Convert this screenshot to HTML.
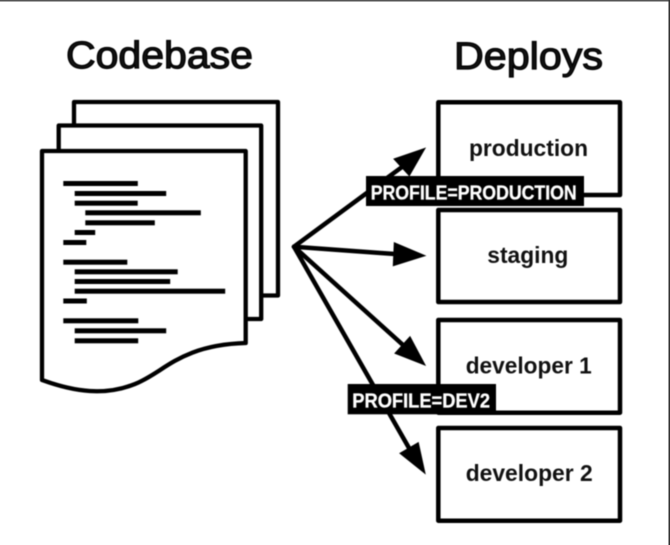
<!DOCTYPE html>
<html><head><meta charset="utf-8"><style>
html,body{margin:0;padding:0;background:#fff;width:670px;height:545px;overflow:hidden}
svg{display:block;position:absolute;left:0;top:0}
text{font-family:"Liberation Sans",sans-serif;fill:#111}
.b{font-weight:bold;font-size:23px}
.h{font-size:38px;font-weight:normal;stroke:#000;stroke-width:1.2px}
.l{font-weight:bold;font-size:20.5px;fill:#fff;stroke:#fff;stroke-width:.3px}
</style></head><body>
<svg width="670" height="545" viewBox="0 0 670 545" xmlns="http://www.w3.org/2000/svg">
<g style="filter:blur(0.55px)">
<text class="h" x="66" y="68" textLength="187" lengthAdjust="spacingAndGlyphs">Codebase</text>
<text class="h" x="454" y="69" textLength="149" lengthAdjust="spacingAndGlyphs">Deploys</text>

<g fill="#fff" stroke="#000" stroke-width="4.300" stroke-linejoin="round">
<rect x="74" y="102" width="204" height="193.500"/>
<rect x="58.700" y="125.500" width="202.500" height="193.500"/>
<path d="M42 151H245.700V343C180 345 165 372 135 384C105 396 75 392 42 380Z"/>
</g>
<g fill="#000">
<rect x="63.300" y="181" width="74.500" height="5"/>
<rect x="74.700" y="191" width="91.500" height="5"/>
<rect x="74.700" y="200.700" width="63" height="5"/>
<rect x="85.300" y="210.300" width="115.500" height="5"/>
<rect x="85.300" y="220.300" width="69.500" height="5"/>
<rect x="74.700" y="230" width="20.500" height="5"/>
<rect x="63.300" y="240" width="23" height="5"/>
<rect x="63.300" y="259.700" width="64" height="5"/>
<rect x="74.700" y="269.300" width="103" height="5"/>
<rect x="74.700" y="279" width="95.500" height="5"/>
<rect x="74.700" y="288.700" width="150.500" height="5"/>
<rect x="63.300" y="298.500" width="23.500" height="5"/>
<rect x="63.300" y="318.300" width="75" height="5"/>
<rect x="74.700" y="328.300" width="91.500" height="5"/>
<rect x="74.700" y="338.300" width="63.500" height="5"/>
</g>

<g fill="#fff" stroke="#000" stroke-width="4.500" stroke-linejoin="round">
<rect x="438.300" y="102.300" width="181.700" height="92.700"/>
<rect x="438.300" y="210" width="181.700" height="92"/>
<rect x="438.300" y="320" width="181.700" height="92.700"/>
<rect x="438.300" y="428" width="181.700" height="92.700"/>
</g>
<text class="b" x="469" y="156" textLength="119" lengthAdjust="spacingAndGlyphs">production</text>
<text class="b" x="487.300" y="263" textLength="81" lengthAdjust="spacingAndGlyphs">staging</text>
<text class="b" x="465.700" y="373.500" textLength="126" lengthAdjust="spacingAndGlyphs">developer 1</text>
<text class="b" x="465.700" y="481" textLength="127" lengthAdjust="spacingAndGlyphs">developer 2</text>

<g stroke="#000" stroke-width="4.500" stroke-linecap="round" fill="none">
<path d="M294 246.700L402 167"/>
<path d="M294 246.700L395 254"/>
<path d="M294 246.700L403 345"/>
<path d="M294 246.700L409 448"/>
</g>
<g fill="#000" stroke="#000" stroke-width="1">
<polygon points="425,148.300 394,159 409.300,175.700"/>
<polygon points="425,255.700 394.300,242.700 393.300,265.700"/>
<polygon points="425,365 410,336.700 395,353.300"/>
<polygon points="425,473.300 418.300,442.700 400,453.300"/>
</g>

<rect x="366" y="176" width="218" height="30" fill="#000"/>
<text class="l" x="370.700" y="199.300" textLength="206" lengthAdjust="spacingAndGlyphs">PROFILE=PRODUCTION</text>
<rect x="347.700" y="384" width="148.300" height="30.300" fill="#000"/>
<text class="l" x="352.300" y="407.500" textLength="137.700" lengthAdjust="spacingAndGlyphs">PROFILE=DEV2</text>
</g>
<rect x="0" y="0" width="670" height="1.500" fill="#555"/>
<rect x="668.500" y="0" width="1.500" height="545" fill="#333"/>
</svg>
</body></html>
